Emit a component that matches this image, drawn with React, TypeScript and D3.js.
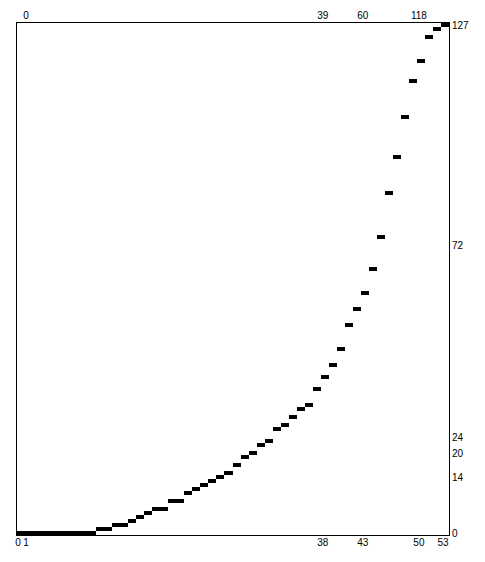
import React from "react";
import * as d3 from "d3";

const values: number[] = [
  0, 0, 0, 0, 0, 0, 0, 0, 0, 0,
  1, 1, 2, 2, 3, 4, 5, 6, 6, 8,
  8, 10, 11, 12, 13, 14, 15, 17, 19, 20,
  22, 23, 26, 27, 29, 31, 32, 36, 39, 42,
  46, 52, 56, 60, 66, 74, 85, 94, 104, 113,
  118, 124, 126, 127,
];
const bottomTicks: number[] = [0, 1, 38, 43, 50, 53];
const topTickIndex: number[] = [1, 38, 43, 50];
const topTickLabels: string[] = ["0", "39", "60", "118"];
const rightTicks: number[] = [0, 14, 20, 24, 72, 127];

const W = 485;
const H = 562;
const left = 16;
const right = 449;
const top = 23;
const bottom = 535;

export default function App() {
  const x = d3.scaleLinear().domain([0, values.length]).range([left, right]);
  const y = d3.scaleLinear().domain([0, 128]).range([bottom, top]);
  const font = "'Liberation Sans', Arial, sans-serif";
  return (
    <svg
      width={W}
      height={H}
      style={{ position: "absolute", left: 0, top: 0, background: "#fff" }}
      fontFamily={font}
      fontSize={10}
    >
      <g shapeRendering="crispEdges">
        {values.map((v, i) => (
          <rect
            key={i}
            x={Math.round(x(i))}
            y={Math.round(y(v + 1))}
            width={Math.round(x(i + 1)) - Math.round(x(i))}
            height={Math.round(y(v)) - Math.round(y(v + 1))}
            fill="#000"
          />
        ))}
        <rect
          x={left + 0.5}
          y={top - 0.5}
          width={right - left}
          height={bottom - top + 1}
          fill="none"
          stroke="#000"
          strokeWidth={1}
        />
      </g>
      {topTickIndex.map((t, k) => (
        <text key={"t" + k} x={x(t + 0.5) - 2} y={top - 4} textAnchor="middle" fill="#000">
          {topTickLabels[k]}
        </text>
      ))}
      {bottomTicks.map((t, k) => (
        <text key={"b" + k} x={x(t + 0.5) - 2} y={bottom + 11} textAnchor="middle" fill="#000">
          {t}
        </text>
      ))}
      {rightTicks.map((t, k) => (
        <text key={"r" + k} x={right + 3} y={y(t + 0.5) + 1} dominantBaseline="middle" textAnchor="start" fill="#000">
          {t}
        </text>
      ))}
    </svg>
  );
}
